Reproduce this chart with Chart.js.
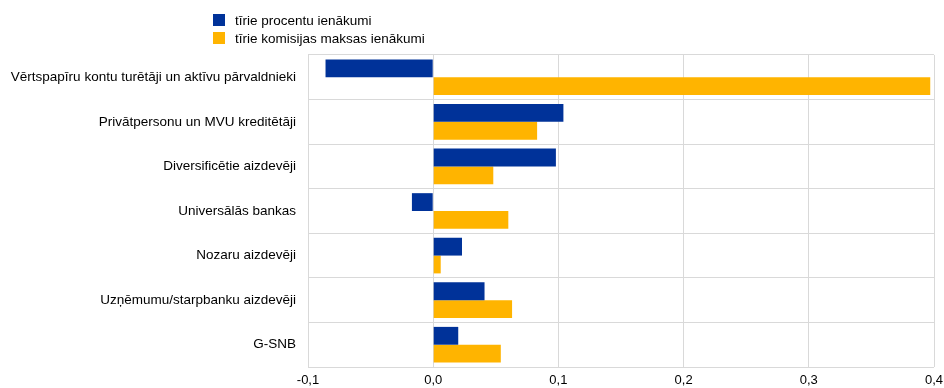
<!DOCTYPE html>
<html>
<head>
<meta charset="utf-8">
<script src="https://cdn.jsdelivr.net/npm/chart.js@4"></script>
<style>
  body { margin: 0; background: #fff; }
  #wrap { position: relative; width: 944px; height: 388px; }
  #legenda { position: absolute; left: 213px; top: 11px; font: 13.5px "Liberation Sans", Arial, sans-serif; color: #000; }
  .item { display: flex; align-items: center; height: 18px; }
  .box { width: 12px; height: 12px; margin-right: 10px; }
</style>
</head>
<body>
<div id="wrap">
  <canvas id="grafiks" width="944" height="388"></canvas>
  <div id="legenda"></div>
</div>
<script>
const kategorijas = [
  "Vērtspapīru kontu turētāji un aktīvu pārvaldnieki",
  "Privātpersonu un MVU kreditētāji",
  "Diversificētie aizdevēji",
  "Universālās bankas",
  "Nozaru aizdevēji",
  "Uzņēmumu/starpbanku aizdevēji",
  "G-SNB",
];
const procentuIenakumi = [-0.086, 0.104, 0.098, -0.017, 0.023, 0.041, 0.020];
const komisijasIenakumi = [0.397, 0.083, 0.048, 0.060, 0.006, 0.063, 0.054];
const serijas = ["tīrie procentu ienākumi", "tīrie komisijas maksas ienākumi"];
const krasas = ["#003299", "#ffb400"];

const fonts = { family: "'Liberation Sans', Arial, sans-serif", size: 13.5 };

const chart = new Chart(document.getElementById("grafiks"), {
  type: "bar",
  data: {
    labels: kategorijas,
    datasets: [
      { label: serijas[0], data: procentuIenakumi, backgroundColor: krasas[0] },
      { label: serijas[1], data: komisijasIenakumi, backgroundColor: krasas[1] },
    ],
  },
  options: {
    indexAxis: "y",
    responsive: false,
    animation: false,
    layout: { padding: { top: 55, right: 0, left: 0, bottom: 0 } },
    datasets: { bar: { categoryPercentage: 0.8, barPercentage: 1.0 } },
    plugins: { legend: { display: false }, tooltip: { enabled: false } },
    scales: {
      x: {
        min: -0.1,
        max: 0.4,
        ticks: {
          stepSize: 0.1,
          color: "#000",
          font: { family: fonts.family, size: 13 },
          padding: 6,
          callback: (v) => v.toFixed(1).replace(".", ","),
        },
        grid: { color: "#d9d9d9", drawTicks: false },
        border: { display: false },
        afterFit: (s) => { s.height = 21; s.paddingRight = 10; s.paddingLeft = 0; },
      },
      y: {
        ticks: { color: "#000", font: fonts, padding: 12 },
        grid: { color: "#d9d9d9", offset: true, drawTicks: false },
        border: { display: false },
        afterFit: (s) => { s.width = 308; },
      },
    },
  },
});

// legenda
const leg = document.getElementById("legenda");
serijas.forEach((nos, i) => {
  const el = document.createElement("div");
  el.className = "item";
  el.innerHTML = `<span class="box" style="background:${krasas[i]}"></span>${nos}`;
  leg.appendChild(el);
});
</script>
</body>
</html>
